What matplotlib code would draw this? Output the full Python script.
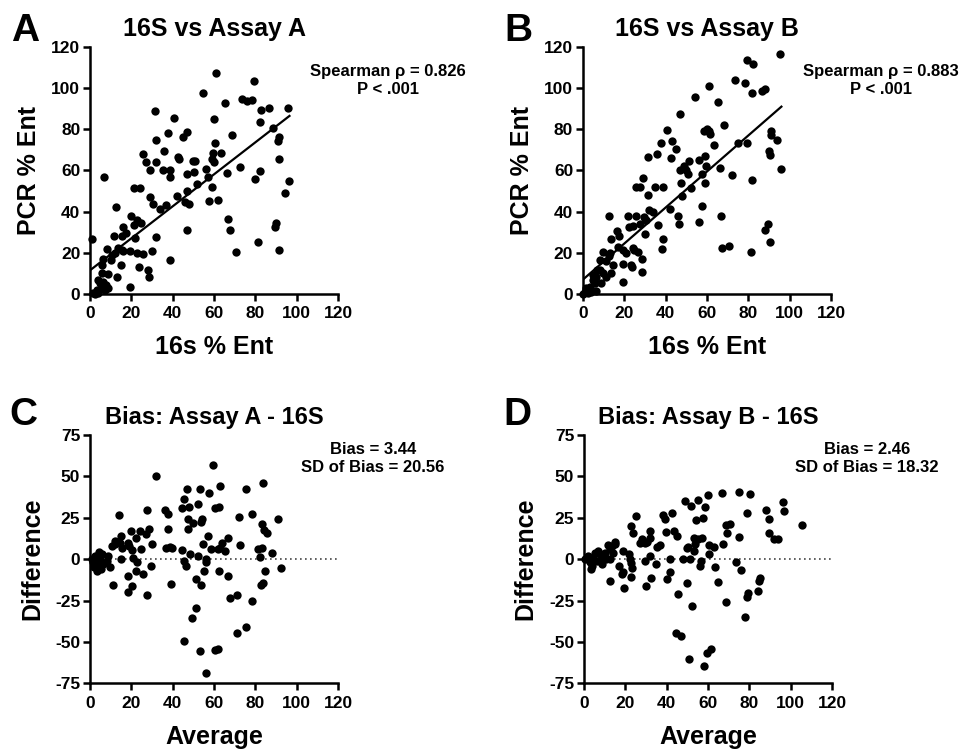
import numpy as np
import matplotlib
matplotlib.use("Agg")
import matplotlib.pyplot as plt

plt.rcParams['font.family'] = ['Liberation Sans', 'DejaVu Sans']
plt.rcParams['font.weight'] = 'bold'
plt.rcParams['axes.unicode_minus'] = False

# panel A: 16S % Ent (x) vs Assay A PCR % Ent (y)
a_x = [61, 79.5, 54.8, 65.3, 73.7, 75.8, 78.5, 31.3, 40.8, 59.8, 82.9, 86.6, 95.8, 82.3, 88.4,
       47.1, 45.2, 37.6, 31.9, 68.7, 60.3, 91.5, 91.1, 59.4, 63.2, 35.8, 25.5, 42.4, 42.9, 27.3,
       32.1, 59.2, 59.8, 49.8, 50.8, 91.5, 29, 35.3, 38.7, 56.3, 50.2, 47.1, 38.5, 66.3, 72.4,
       82.3, 6.6, 56.9, 79.7, 96.5, 51.8, 21.3, 24.2, 59, 94.2, 29.2, 42.3, 46.9, 57.7, 61.8,
       46.1, 48.1, 30.5, 36.8, 33.9, 12.6, 19.7, 22.9, 24.7, 21.1, 16, 66.9, 67.9, 90, 89.5,
       17.4, 11.5, 15.3, 46.9, 31.8, 21.6, 0.8, 8.1, 13.7, 15.3, 16.1, 19.4, 22.6, 25.5, 30,
       10.6, 11.9, 6.1, 10, 15.2, 23.5, 28.2, 28.7, 38.5, 8.9, 12.9, 19.4, 6, 81.1, 91.3,
       70.8, 4, 4.8, 6.5, 7.7, 8.9, 5.6, 3.2, 1.6, 7.3, 4, 2.4, 5.8]
a_y = [107.5, 103.6, 97.8, 93, 94.6, 93.8, 94.2, 88.7, 85.7, 85.2, 89.2, 90.5, 90.2, 83.6, 80.8,
       78.9, 76.4, 78.1, 74.8, 77.2, 73.5, 76.4, 74.5, 68.7, 68.3, 69.6, 68.2, 66.4, 65.7, 64.1,
       64.1, 65.4, 64.3, 64.6, 64.8, 65.7, 60.4, 60.4, 60.4, 60.7, 59.4, 58.3, 56.7, 58.9, 61.7,
       59.9, 57, 56.7, 55.9, 54.9, 53.3, 51.3, 51.3, 52, 48.9, 47, 47.6, 49.9, 45.3, 45.8,
       44.9, 43.7, 43.7, 43.4, 41.1, 42.4, 37.7, 36, 34.7, 33.5, 32.4, 36.4, 31.1, 34.7, 32.6,
       29.5, 28.2, 28.3, 31.1, 27.5, 27.4, 26.9, 21.9, 22.5, 21.4, 21.1, 20.9, 19.8, 19.3, 20.7,
       19.1, 19.8, 16.8, 16.5, 14.1, 13.3, 11.5, 8.4, 16.5, 9.7, 8.1, 3.2, 14.1, 25.1, 21.2,
       20.2, 6.8, 5.2, 6, 4.4, 2.8, 2.8, 1.9, 0.7, 1.9, 0.3, 0, 10]
a_fit_x = [0, 96.5]
a_fit_y = [11.5, 86.5]

# panel B: 16S % Ent (x) vs Assay B PCR % Ent (y)
b_x = [95.2, 79.5, 82.4, 73.6, 78.4, 60.8, 54.4, 65.3, 81.6, 86.4, 88, 47, 40.6, 43, 42.6,
       45.1, 37.6, 35.7, 31.4, 58.4, 60, 60.8, 61.6, 68.3, 63.2, 75.2, 79.5, 90.9, 91.2, 93.9,
       89.9, 90.7, 56.3, 59.2, 51.5, 49.1, 49.9, 59.4, 46.9, 66.1, 96, 29.1, 25.6, 27.5, 34.9,
       38.7, 31.7, 47.4, 50.9, 57.6, 58.9, 52.2, 48, 72, 81.6, 32, 33.9, 42.2, 57.6, 29.3,
       30.7, 21.6, 22.4, 25.6, 12.6, 24, 27.5, 36.5, 46.1, 46.7, 56.3, 66.6, 16.3, 17.6, 30.1,
       13.6, 89.6, 88.3, 90.7, 38.9, 38.4, 9.9, 13.1, 16.8, 19.2, 20.8, 24.3, 24.8, 26.7, 67.5,
       70.7, 81.3, 8, 11.2, 14.4, 12.5, 19.2, 23.2, 23.5, 28.5, 28.8, 19.2, 8, 9.6, 6.4,
       4.8, 5.6, 3.2, 1.6, 0.8, 4, 6.4, 2.4, 0, 8.8, 11.2, 13.6, 6.9, 4.8]
b_y = [116.5, 113.7, 111.8, 104, 102.3, 100.8, 95.5, 93.2, 97.6, 98.4, 99.5, 87.3, 79.7, 74.5, 66.1,
       70.3, 73.5, 68.1, 66.5, 79, 80.1, 79, 77.7, 81.9, 72.3, 73.2, 73.2, 79, 77.3, 74.8,
       69.7, 67.7, 65.2, 66.8, 64.5, 62.4, 60, 62.1, 60, 61.1, 60.8, 56.5, 51.9, 51.8, 51.9,
       51.8, 48.2, 53.9, 58.4, 58.1, 53.9, 51.3, 47.6, 57.6, 55.5, 40.6, 39.7, 41.5, 42.7, 37.4,
       35.8, 37.9, 32.6, 37.9, 37.9, 33.2, 34.2, 33.4, 37.7, 34, 34.8, 38.1, 30.6, 28.1, 28.9,
       26.9, 34.2, 31, 25.3, 26.5, 21.9, 20.3, 19.7, 22.9, 21.3, 20, 22.4, 21.3, 20.3, 22.1,
       23.4, 20.3, 16.5, 16, 14, 18.4, 14.5, 14, 13.2, 16.9, 10.5, 6, 11.6, 10, 8.1,
       6.8, 5.2, 3.5, 2.7, 1.1, 1.1, 1.6, 0.6, 0, 5.2, 8.4, 10, 11.6, 9.2]
b_fit_x = [0, 96]
b_fit_y = [7, 91]

# panel C: Bland-Altman, Assay A - 16S
c_avg = [59.6, 31.9, 83.7, 46.7, 53.1, 62.8, 57.6, 75.7, 45.4, 52.3, 47.8, 44.4, 27.4, 36.2, 37.8,
         60.4, 62.5, 14.2, 47.5, 49.6, 54.1, 53.8, 72.1, 78.6, 91.1, 83.4, 84, 85.8, 47.2, 37.8,
         28.7, 19.6, 24.2, 27.1, 30, 22.2, 24.5, 18.5, 19, 20.1, 20.6, 14.5, 15.5, 10.5, 11.9,
         9.7, 14.8, 29.5, 22.5, 22.2, 25.4, 18.5, 20.1, 18.5, 11.3, 27.4, 39, 36.7, 38.6, 39.9,
         44.6, 48.3, 45.4, 46.2, 52.3, 54.8, 57.3, 58.4, 56, 56.3, 55.2, 62.5, 62, 62.8, 63.8,
         66.7, 65.5, 66.8, 67.6, 70.9, 72.8, 78.3, 81.3, 83.4, 88.2, 82.4, 84.5, 82.9, 83.7, 92.6,
         51.2, 53.5, 51.5, 49.3, 45.4, 53.1, 60.4, 62, 56, 71.2, 75.7,
         0.8, 1.6, 2.4, 3.2, 4, 4.8, 5.6, 6.4, 3.2, 5.2, 1.9, 4.5, 8.9, 8.1, 15.2, 12]
c_diff = [57, 50, 46, 42.4, 42.4, 44, 40, 42.4, 36.4, 33.6, 31.6, 31, 30, 30, 27,
          31, 31.4, 26.4, 24.4, 22, 24, 22.6, 25.4, 27, 24, 21, 17.4, 15.6, 18, 18,
          18.4, 17, 17, 15, 9.4, 13, 6.4, 10, 8, 5.6, 1, 10, 7, 8, 11,
          -5, 0, -4, -2, -7, -9, -10, -16.4, -20, -15.6, -21.4, -15, 7, 7.4, 6.8,
          5.4, 3, -1, -4, 2, 9, 14, 6, 0, -2, -7, -7, 6, 7, 9.6,
          13, 5, -10, -23.4, -21.6, 8.6, -25, 6.4, 7, 4, 1.6, -7.4, -15.4, -14.4, -5.6,
          -12, -15.4, -29.6, -35.6, -49.6, -55.6, -55, -54.4, -69, -44.6, -41,
          0, -2, 2, -4, -1, 1, 3, -3, -7, -6, -5, 4.4, 2, -1, 14, 9]

# panel D: Bland-Altman, Assay B - 16S
d_avg = [66.9, 74.8, 80.5, 60, 55.1, 48.7, 51.6, 58.4, 96.1, 96.9, 88.1, 89.7, 78.9, 105.5, 25.4,
         38.3, 39.1, 42.6, 54, 57.6, 68.8, 70.7, 69.1, 89.4, 92.1, 93.7, 39.9, 43.4, 45, 74.9,
         53.1, 57.2, 55.1, 53.5, 50.3, 49.8, 53.1, 60.4, 62.7, 60.4, 67.5, 23, 23.8, 15, 13.8,
         11.7, 12.5, 28.3, 27, 29.4, 30.5, 31.8, 31.8, 36.7, 35.5, 32.2, 29.6, 34.7, 41.5, 47.9,
         51.4, 56.3, 56.8, 63.5, 73.6, 76.1, 21.9, 22.2, 23, 23.3, 16.9, 19, 18.2, 12.5, 19.5,
         22.7, 32.5, 30.1, 40.2, 41.8, 45.5, 49.8, 52.3, 64.8, 68.5, 84.6, 85.2, 84.1, 79.6, 78.8,
         78.1, 44.7, 47.1, 50.6, 59.5, 61.6, 57.9,
         0.5, 2.1, 2.9, 3.7, 4.5, 6.1, 7.7, 9.3, 10.1, 8.5, 5.3, 6.9, 10.9, 12.5, 3.2, 14.1, 15, 19]
d_diff = [40, 40.4, 39.6, 38.8, 36, 35.4, 32.4, 31.4, 34.4, 29.4, 30, 24, 28, 20.8, 26,
          26.4, 24.4, 27.6, 23.6, 25, 20.4, 21.4, 16, 15.6, 12.4, 12.4, 16.6, 17, 13.8, 13.2,
          12.8, 12.8, 12.4, 9, 7.4, 6.6, 5, 8.8, 7.6, 3.2, 9.2, 20, 16, 10.4, 8,
          8.4, 6, 12, 10, 9.6, 10.4, 16.8, 13, 8.8, 7.6, 2, -1, -3, 0, 0,
          0, -4, -1, -4.6, -2, -6.4, 3, 0, -2.4, -5.4, -4, -8, -9, -13.2, -17.6,
          -11, -11.4, -16, -12, -8, -21, -14.4, -28, -14, -26, -13, -11.6, -19, -20.4, -22.6,
          -35, -44.4, -46.4, -60.2, -56.6, -54.4, -64.6,
          0, 2, -2, -4, 1, -1, 3, 1, 4, -3, 4, 5, 0, 0, -6, 4, 9, 5]


def estilo(ax):
    for s in ['top', 'right']:
        ax.spines[s].set_visible(False)
    for s in ['left', 'bottom']:
        ax.spines[s].set_linewidth(1.8)
    ax.tick_params(direction='out', length=5, width=1.8, labelsize=12.5, pad=2)
    ax.tick_params(axis='x', pad=4)
    for lab in ax.get_xticklabels() + ax.get_yticklabels():
        lab.set_fontweight('bold')


fig = plt.figure(figsize=(9.7, 7.49), dpi=100)

# scatter panels
paneles = [
    (0.0928, a_x, a_y, a_fit_x, a_fit_y, '16S vs Assay A', 'Spearman \u03c1 = 0.826\nP < .001', 'A'),
    (0.601, b_x, b_y, b_fit_x, b_fit_y, '16S vs Assay B', 'Spearman \u03c1 = 0.883\nP < .001', 'B'),
]
for left, x, y, fx, fy, titulo, texto, letra in paneles:
    ax = fig.add_axes([left, 0.6075, 0.2557, 0.3298])
    ax.scatter(x, y, s=36, color='black', zorder=3, clip_on=False, linewidths=0)
    ax.plot(fx, fy, color='black', lw=1.6, zorder=2)
    ax.set_xlim(0, 120)
    ax.set_ylim(0, 120)
    ax.set_xticks(range(0, 121, 20))
    ax.set_yticks(range(0, 121, 20))
    ax.set_xlabel('16s % Ent', fontsize=18, fontweight='bold', labelpad=10)
    ax.set_ylabel('PCR % Ent', fontsize=18, fontweight='bold', labelpad=7)
    ax.set_title(titulo, fontsize=18, fontweight='bold', pad=8)
    ax.text(1.2, 0.865, texto, transform=ax.transAxes, ha='center', va='center',
            fontsize=12, fontweight='bold', linespacing=1.25)
    estilo(ax)
    fig.text(left - 0.081, 0.983, letra, fontsize=28, fontweight='bold', va='top')

# bland-altman panels
paneles = [
    (0.0928, c_avg, c_diff, 'Bias: Assay A - 16S', 'Bias = 3.44\nSD of Bias = 20.56', 'C'),
    (0.602, d_avg, d_diff, 'Bias: Assay B - 16S', 'Bias = 2.46\nSD of Bias = 18.32', 'D'),
]
for left, x, y, titulo, texto, letra in paneles:
    ax = fig.add_axes([left, 0.0877, 0.2557, 0.3315])
    ax.scatter(x, y, s=36, color='black', zorder=3, clip_on=False, linewidths=0)
    ax.axhline(0, color='#444444', lw=1.2, ls=(0, (1, 2)), zorder=1)
    ax.set_xlim(0, 120)
    ax.set_ylim(-75, 75)
    ax.set_xticks(range(0, 121, 20))
    ax.set_yticks(range(-75, 76, 25))
    ax.set_xlabel('Average', fontsize=18, fontweight='bold', labelpad=10)
    ax.set_ylabel('Difference', fontsize=18, fontweight='bold', labelpad=8)
    ax.set_title(titulo, fontsize=17, fontweight='bold', pad=8)
    ax.text(1.14, 0.905, texto, transform=ax.transAxes, ha='center', va='center',
            fontsize=12, fontweight='bold', linespacing=1.2)
    estilo(ax)
    fig.text(left - 0.083, 0.47, letra, fontsize=28, fontweight='bold', va='top')

fig.savefig('out.png', dpi=100)
